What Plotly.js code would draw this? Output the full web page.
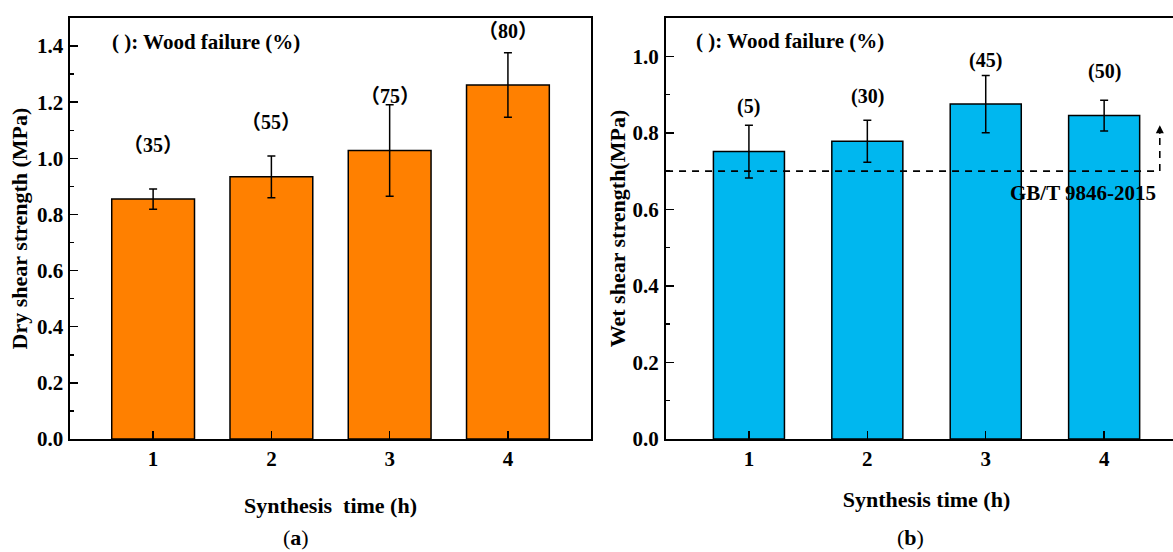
<!DOCTYPE html>
<html>
<head>
<meta charset="utf-8">
<script src="https://cdn.plot.ly/plotly-3.0.1.min.js"></script>
<style>
html,body{margin:0;padding:0;overflow:hidden;background:#fff;}
#chart{width:1190px;height:552px;}
</style>
</head>
<body>
<div id="chart"></div>
<script>
// ---- data ----
const synthesisTimes = [1, 2, 3, 4];
const dryStrength = [0.855, 0.934, 1.028, 1.261];
const dryError = [0.036, 0.074, 0.163, 0.115];
const dryWoodFailure = [35, 55, 75, 80];
const dryLabelY = [1.047, 1.128, 1.223, 1.455];
const wetStrength = [0.751, 0.778, 0.875, 0.845];
const wetError = [0.069, 0.055, 0.075, 0.040];
const wetWoodFailure = [5, 30, 45, 50];
const wetLabelY = [0.869, 0.895, 0.990, 0.961];
const standardLimit = 0.7;
const standardName = 'GB/T 9846-2015';
const yTicksDry = [0, 0.2, 0.4, 0.6, 0.8, 1.0, 1.2, 1.4];
const yTicksWet = [0, 0.2, 0.4, 0.6, 0.8, 1.0];

// ---- styles ----
const FONT = '"Times New Roman", "Liberation Serif", serif';
const tickFont = {family: FONT, size: 21, color: '#000', weight: 'bold'};
const titleFont = {family: FONT, size: 22, color: '#000', weight: 'bold'};

const traces = [
  {
    type: 'bar', x: synthesisTimes, y: dryStrength, width: 0.7,
    xaxis: 'x', yaxis: 'y',
    marker: {color: '#FF8000', line: {color: '#000', width: 1.5}},
    error_y: {type: 'data', array: dryError, visible: true, color: '#000', thickness: 1.5, width: 4},
    showlegend: false, hoverinfo: 'x+y'
  },
  {
    type: 'bar', x: synthesisTimes, y: wetStrength, width: 0.6,
    xaxis: 'x2', yaxis: 'y2',
    marker: {color: '#00B7EF', line: {color: '#000', width: 1.5}},
    error_y: {type: 'data', array: wetError, visible: true, color: '#000', thickness: 1.5, width: 4},
    showlegend: false, hoverinfo: 'x+y'
  }
];

function xAxis(domain, anchor, standoff) {
  return {
    domain: domain, anchor: anchor, range: [0.3, 4.7],
    tickvals: synthesisTimes, ticktext: synthesisTimes.map(String),
    ticks: 'inside', ticklen: 8, tickwidth: 1.5, tickcolor: '#000',
    showline: true, linecolor: '#000', linewidth: 2, mirror: true,
    showgrid: false, zeroline: false, tickfont: tickFont,
    title: {text: '', font: titleFont, standoff: standoff}
  };
}
function yAxis(domain, anchor, range, vals) {
  return {
    domain: domain, anchor: anchor, range: range,
    tickvals: vals, ticktext: vals.map(v => v.toFixed(1)),
    ticks: 'inside', ticklen: 8, tickwidth: 1.5, tickcolor: '#000',
    minor: {dtick: 0.1, ticks: 'inside', ticklen: 4, tickwidth: 1.5, tickcolor: '#000'},
    showline: true, linecolor: '#000', linewidth: 2, mirror: true,
    showgrid: false, zeroline: false, tickfont: tickFont, ticklabelstandoff: 1,
    title: {text: '', font: titleFont, standoff: 3}
  };
}

const xa1 = xAxis([0.0591, 0.4964], 'y', 27);
xa1.title.text = 'Synthesis  time (h)';
const xa2 = xAxis([0.5597, 0.9975], 'y2', 21);
xa2.title.text = 'Synthesis time (h)';
const ya1 = yAxis([0.2047, 0.9674], 'x', [0, 1.5], yTicksDry);
ya1.title.text = 'Dry shear strength (MPa)';
const ya2 = yAxis([0.2047, 0.9674], 'x2', [0, 1.1], yTicksWet);
ya2.title.text = 'Wet shear strength(MPa)';
ya2.title.standoff = 1;

const annotations = [];
synthesisTimes.forEach((t, i) => {
  annotations.push({x: t, y: dryLabelY[i], xref: 'x', yref: 'y', showarrow: false,
    xanchor: 'center', yanchor: 'middle',
    text: '（' + dryWoodFailure[i] + '）', font: {family: FONT + ', "Noto Sans CJK SC"', size: 20, color: '#000', weight: 'bold'}});
  annotations.push({x: t, y: wetLabelY[i], xref: 'x2', yref: 'y2', showarrow: false,
    xanchor: 'center', yanchor: 'middle',
    text: '(' + wetWoodFailure[i] + ')', font: {family: FONT, size: 20, color: '#000', weight: 'bold'}});
});
annotations.push({x: 1.445, y: 1.414, xref: 'x', yref: 'y', showarrow: false,
  xanchor: 'center', yanchor: 'middle',
  text: '( ): Wood failure (%)', font: {family: FONT, size: 21, color: '#000', weight: 'bold'}});
annotations.push({x: 1.349, y: 1.039, xref: 'x2', yref: 'y2', showarrow: false,
  xanchor: 'center', yanchor: 'middle',
  text: '( ): Wood failure (%)', font: {family: FONT, size: 21, color: '#000', weight: 'bold'}});
annotations.push({x: 3.82, y: standardLimit - 0.056, xref: 'x2', yref: 'y2', showarrow: false,
  xanchor: 'center', yanchor: 'middle',
  text: standardName, font: {family: FONT, size: 21, color: '#000', weight: 'bold'}});
// arrow head above the limit
annotations.push({x: 4.47, y: standardLimit + 0.12, xref: 'x2', yref: 'y2', text: '',
  showarrow: true, arrowhead: 2, arrowsize: 1, arrowwidth: 1.6, arrowcolor: '#000', ax: 0, ay: 10});
annotations.push({x: 296 / 1190, y: 1 - 537 / 552, xref: 'paper', yref: 'paper', showarrow: false,
  xanchor: 'center', yanchor: 'middle',
  text: '(<b>a</b>)', font: {family: FONT, size: 22, color: '#000'}});
annotations.push({x: 911 / 1190, y: 1 - 537 / 552, xref: 'paper', yref: 'paper', showarrow: false,
  xanchor: 'center', yanchor: 'middle',
  text: '(<b>b</b>)', font: {family: FONT, size: 22, color: '#000'}});

const shapes = [
  {type: 'line', xref: 'x2', yref: 'y2', x0: 0.3, x1: 4.47, y0: standardLimit, y1: standardLimit,
   line: {color: '#000', width: 1.8, dash: '7px,6px'}},
  {type: 'line', xref: 'x2', yref: 'y2', x0: 4.47, x1: 4.47, y0: standardLimit, y1: standardLimit + 0.1,
   line: {color: '#000', width: 1.6, dash: '7px,6px'}}
];

const layout = {
  width: 1190, height: 552,
  margin: {l: 0, r: 0, t: 0, b: 0},
  paper_bgcolor: '#fff', plot_bgcolor: '#fff',
  xaxis: xa1, yaxis: ya1, xaxis2: xa2, yaxis2: ya2,
  annotations: annotations, shapes: shapes,
  showlegend: false, bargap: 0
};

Plotly.newPlot('chart', traces, layout, {displayModeBar: false, staticPlot: true});
</script>
</body>
</html>
